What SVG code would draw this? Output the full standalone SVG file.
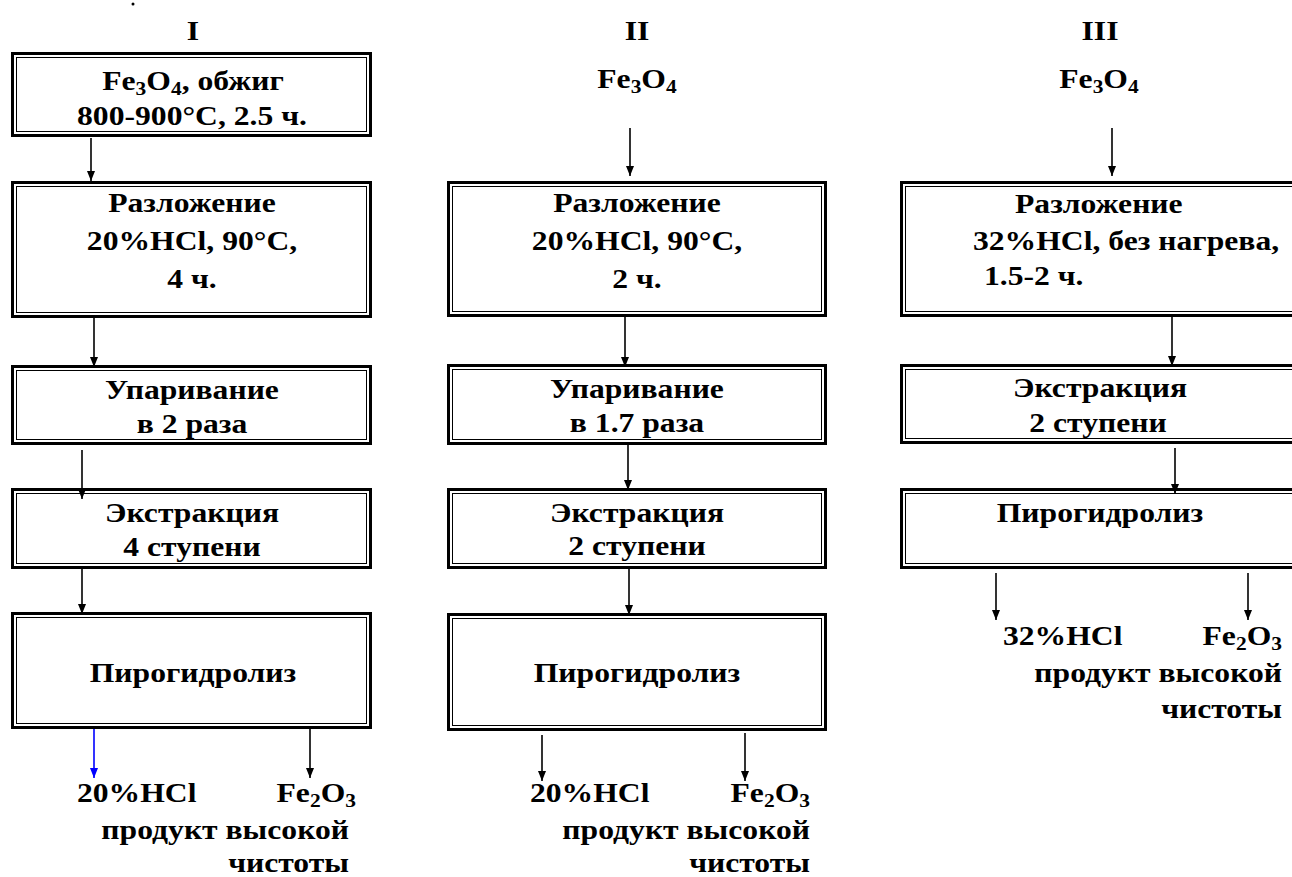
<svg xmlns="http://www.w3.org/2000/svg" width="1292" height="877" viewBox="0 0 1292 877" font-family="'Liberation Serif', 'Times New Roman', serif" font-weight="bold" font-size="28">
<style>
text{fill:#000}
.c{text-anchor:middle}
.r{text-anchor:end}
.o{fill:#fff;stroke:#000;stroke-width:3}
.i{fill:none;stroke:#000;stroke-width:1}
.ln{stroke:#000;stroke-width:1.6;fill:none;marker-end:url(#ah)}
.bl{stroke:#0000ff;stroke-width:1.6;fill:none;marker-end:url(#ahb)}
.s{font-size:19px}
</style>
<defs>
<marker id="ah" viewBox="0 0 10 10" refX="10" refY="5" markerWidth="10" markerHeight="10" markerUnits="userSpaceOnUse" orient="auto"><path d="M0,1 L10,5 L0,9 z" fill="#000"/></marker>
<marker id="ahb" viewBox="0 0 10 10" refX="10" refY="5" markerWidth="10" markerHeight="10" markerUnits="userSpaceOnUse" orient="auto"><path d="M0,1 L10,5 L0,9 z" fill="#0000ff"/></marker>
</defs>
<rect width="1292" height="877" fill="#fff"/>
<circle cx="133" cy="4" r="1.5" fill="#000"/>
<g id="headers">
<text class="c" transform="translate(193 40) scale(1.13 1)">I</text>
<text class="c" transform="translate(637 40) scale(1.13 1)">II</text>
<text class="c" transform="translate(1100 40) scale(1.13 1)">III</text>
<text class="c" transform="translate(637 88) scale(1.13 1)">Fe<tspan class="s" dy="5">3</tspan><tspan dy="-5">O</tspan><tspan class="s" dy="5">4</tspan></text>
<text class="c" transform="translate(1099 88) scale(1.13 1)">Fe<tspan class="s" dy="5">3</tspan><tspan dy="-5">O</tspan><tspan class="s" dy="5">4</tspan></text>
</g>
<g id="n1a"><rect class="o" x="12.5" y="53.5" width="358" height="82"/><rect class="i" x="16.5" y="57.5" width="350" height="74"/>
<text class="c" transform="translate(193 90) scale(1.13 1)">Fe<tspan class="s" dy="5">3</tspan><tspan dy="-5">O</tspan><tspan class="s" dy="5">4</tspan><tspan dy="-5">, обжиг</tspan></text>
<text class="c" transform="translate(192 125) scale(1.13 1)">800-900°C, 2.5 ч.</text></g>
<g id="n1b"><rect class="o" x="12.5" y="182.5" width="358" height="134"/><rect class="i" x="16.5" y="186.5" width="350" height="126"/>
<text class="c" transform="translate(192 212) scale(1.13 1)">Разложение</text>
<text class="c" transform="translate(192 250) scale(1.13 1)">20%HCl, 90°C,</text>
<text class="c" transform="translate(192 288) scale(1.13 1)">4 ч.</text></g>
<g id="n1c"><rect class="o" x="12.5" y="366.5" width="358" height="77"/><rect class="i" x="16.5" y="370.5" width="350" height="69"/>
<text class="c" transform="translate(192 399) scale(1.13 1)">Упаривание</text>
<text class="c" transform="translate(192 433) scale(1.13 1)">в 2 раза</text></g>
<g id="n1d"><rect class="o" x="12.5" y="489.5" width="358" height="78"/><rect class="i" x="16.5" y="493.5" width="350" height="70"/>
<text class="c" transform="translate(192 522) scale(1.13 1)">Экстракция</text>
<text class="c" transform="translate(192 556) scale(1.13 1)">4 ступени</text></g>
<g id="n1e"><rect class="o" x="12.5" y="613.5" width="358" height="114"/><rect class="i" x="16.5" y="617.5" width="350" height="106"/>
<text class="c" transform="translate(193 682) scale(1.13 1)">Пирогидролиз</text></g>
<g id="o1">
<text transform="translate(77 802) scale(1.13 1)">20%HCl</text>
<text class="r" transform="translate(356 802) scale(1.13 1)">Fe<tspan class="s" dy="5">2</tspan><tspan dy="-5">O</tspan><tspan class="s" dy="5">3</tspan></text>
<text class="r" transform="translate(349 839) scale(1.13 1)">продукт высокой</text>
<text class="r" transform="translate(349 872) scale(1.13 1)">чистоты</text></g>
<g id="n2b"><rect class="o" x="448.5" y="182.5" width="377" height="133"/><rect class="i" x="452.5" y="186.5" width="369" height="125"/>
<text class="c" transform="translate(637 212) scale(1.13 1)">Разложение</text>
<text class="c" transform="translate(637 250) scale(1.13 1)">20%HCl, 90°C,</text>
<text class="c" transform="translate(637 288) scale(1.13 1)">2 ч.</text></g>
<g id="n2c"><rect class="o" x="448.5" y="365.5" width="377" height="78"/><rect class="i" x="452.5" y="369.5" width="369" height="70"/>
<text class="c" transform="translate(637 398) scale(1.13 1)">Упаривание</text>
<text class="c" transform="translate(637 432) scale(1.13 1)">в 1.7 раза</text></g>
<g id="n2d"><rect class="o" x="448.5" y="489.5" width="377" height="78"/><rect class="i" x="452.5" y="493.5" width="369" height="70"/>
<text class="c" transform="translate(637 522) scale(1.13 1)">Экстракция</text>
<text class="c" transform="translate(637 555) scale(1.13 1)">2 ступени</text></g>
<g id="n2e"><rect class="o" x="448.5" y="614.5" width="377" height="115"/><rect class="i" x="452.5" y="618.5" width="369" height="107"/>
<text class="c" transform="translate(637 682) scale(1.13 1)">Пирогидролиз</text></g>
<g id="o2">
<text transform="translate(530 802) scale(1.13 1)">20%HCl</text>
<text class="r" transform="translate(810 802) scale(1.13 1)">Fe<tspan class="s" dy="5">2</tspan><tspan dy="-5">O</tspan><tspan class="s" dy="5">3</tspan></text>
<text class="r" transform="translate(810 839) scale(1.13 1)">продукт высокой</text>
<text class="r" transform="translate(810 872) scale(1.13 1)">чистоты</text></g>
<g id="n3b"><rect class="o" x="901.5" y="182.5" width="420" height="133"/><rect class="i" x="905.5" y="186.5" width="412" height="125"/>
<text transform="translate(1015 213) scale(1.13 1)">Разложение</text>
<text transform="translate(973 250) scale(1.13 1)">32%HCl, без нагрева,</text>
<text transform="translate(984 285) scale(1.13 1)">1.5-2 ч.</text></g>
<g id="n3c"><rect class="o" x="901.5" y="365.5" width="420" height="77"/><rect class="i" x="905.5" y="369.5" width="412" height="69"/>
<text class="c" transform="translate(1100 397) scale(1.13 1)">Экстракция</text>
<text class="c" transform="translate(1098 432) scale(1.13 1)">2 ступени</text></g>
<g id="n3d"><rect class="o" x="901.5" y="489.5" width="420" height="78"/><rect class="i" x="905.5" y="493.5" width="412" height="70"/>
<text class="c" transform="translate(1100 522) scale(1.13 1)">Пирогидролиз</text></g>
<g id="o3">
<text transform="translate(1003 645) scale(1.13 1)">32%HCl</text>
<text class="r" transform="translate(1282 645) scale(1.13 1)">Fe<tspan class="s" dy="5">2</tspan><tspan dy="-5">O</tspan><tspan class="s" dy="5">3</tspan></text>
<text class="r" transform="translate(1282 682) scale(1.13 1)">продукт высокой</text>
<text class="r" transform="translate(1282 718) scale(1.13 1)">чистоты</text></g>
<g id="connectors">
<line class="ln" x1="91" y1="138" x2="91" y2="181"/>
<line class="ln" x1="94" y1="318" x2="94" y2="367"/>
<line class="ln" x1="82" y1="450" x2="82" y2="499"/>
<line class="ln" x1="82" y1="569" x2="82" y2="614"/>
<line class="bl" x1="94" y1="729" x2="94" y2="778"/>
<line class="ln" x1="310" y1="729" x2="310" y2="778"/>
<line class="ln" x1="630" y1="128" x2="630" y2="176"/>
<line class="ln" x1="625" y1="317" x2="625" y2="367"/>
<line class="ln" x1="628" y1="445" x2="628" y2="490"/>
<line class="ln" x1="629" y1="569" x2="629" y2="615"/>
<line class="ln" x1="542" y1="735" x2="542" y2="781"/>
<line class="ln" x1="745" y1="733" x2="745" y2="781"/>
<line class="ln" x1="1112" y1="128" x2="1112" y2="176"/>
<line class="ln" x1="1172" y1="316" x2="1172" y2="366"/>
<line class="ln" x1="1175" y1="448" x2="1175" y2="494"/>
<line class="ln" x1="996" y1="573" x2="996" y2="620"/>
<line class="ln" x1="1248" y1="573" x2="1248" y2="620"/>
</g>
</svg>
